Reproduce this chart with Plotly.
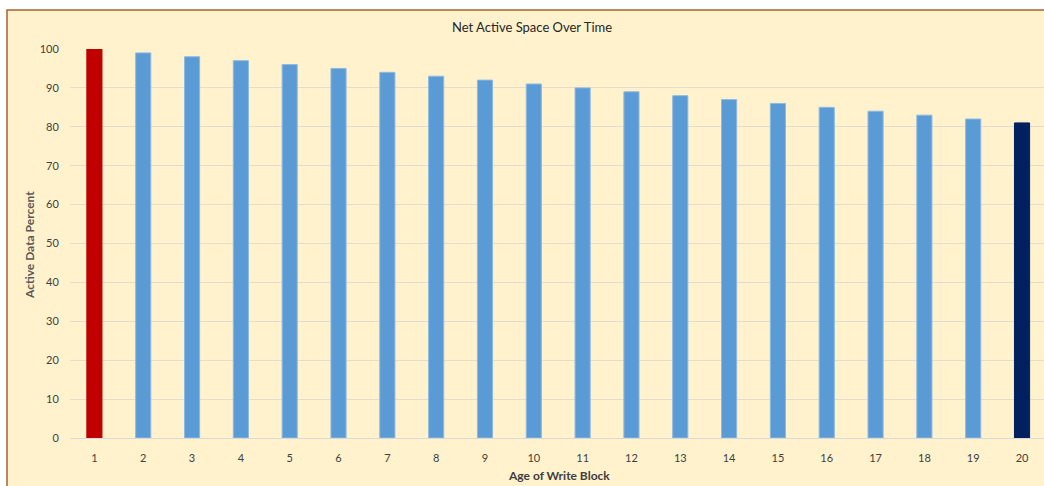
import plotly.graph_objects as go

# Age of each write block and the share of its data that is still active
ages = [str(i) for i in range(1, 21)]
active_pct = [100, 99, 98, 97, 96, 95, 94, 93, 92, 91,
              90, 89, 88, 87, 86, 85, 84, 83, 82, 81]
y_ticks = [0, 10, 20, 30, 40, 50, 60, 70, 80, 90, 100]

# First block red, last block navy, everything in between blue
bar_colors = ["#C00000"] + ["#5B9BD5"] * 18 + ["#002060"]
line_colors = ["#C00000"] + ["#8DB9E3"] * 18 + ["#002060"]

W, H = 1044, 486
ML, MR, MT, MB = 70, 0, 49, 48
PW = W - ML - MR
PH = H - MT - MB


def px_x(px):
    return (px - ML) / PW


def px_y(py):
    return (H - MB - py) / PH


fig = go.Figure(
    go.Bar(
        x=ages,
        y=active_pct,
        marker=dict(color=bar_colors, line=dict(color=line_colors, width=1)),
        width=0.31,
        hoverinfo="x+y",
    )
)

font_family = "Lato, 'Open Sans', sans-serif"

fig.update_layout(
    width=W,
    height=H,
    margin=dict(l=ML, r=MR, t=MT, b=MB),
    paper_bgcolor="white",
    plot_bgcolor="rgba(0,0,0,0)",
    showlegend=False,
    font=dict(family=font_family, size=11, color="#404040"),
    xaxis=dict(
        type="category",
        range=[-0.5, 19.45],
        showgrid=False,
        showline=True,
        linecolor="#D9D9D9",
        linewidth=1,
        ticks="outside",
        ticklen=10,
        tickcolor="rgba(0,0,0,0)",
        tickfont=dict(size=11, color="#404040"),
        automargin=False,
    ),
    yaxis=dict(
        range=[0, 100],
        tickvals=y_ticks,
        showgrid=True,
        gridcolor="#E3DDD0",
        gridwidth=1,
        zeroline=False,
        showline=False,
        ticks="outside",
        ticklen=8,
        tickcolor="rgba(0,0,0,0)",
        tickfont=dict(size=11, color="#404040"),
        automargin=False,
    ),
    shapes=[
        dict(
            type="rect",
            xref="paper",
            yref="paper",
            x0=px_x(7),
            x1=px_x(1060),
            y0=px_y(500),
            y1=px_y(10),
            fillcolor="#FFF2CC",
            line=dict(color="#A5642F", width=1.5),
            layer="below",
        )
    ],
    annotations=[
        dict(
            text="Net Active Space Over Time",
            xref="paper",
            yref="paper",
            x=px_x(532),
            y=px_y(27),
            xanchor="center",
            yanchor="middle",
            showarrow=False,
            font=dict(size=13, color="#262626", family=font_family),
        ),
        dict(
            text="<b>Age of Write Block</b>",
            xref="paper",
            yref="paper",
            x=px_x(559),
            y=px_y(475),
            xanchor="center",
            yanchor="middle",
            showarrow=False,
            font=dict(size=12, color="#404040", family=font_family),
        ),
        dict(
            text="<b>Active Data Percent</b>",
            xref="paper",
            yref="paper",
            x=px_x(29),
            y=px_y(245),
            xanchor="center",
            yanchor="middle",
            textangle=-90,
            showarrow=False,
            font=dict(size=12, color="#595959", family=font_family),
        ),
    ],
)

fig.write_html("out.html")
